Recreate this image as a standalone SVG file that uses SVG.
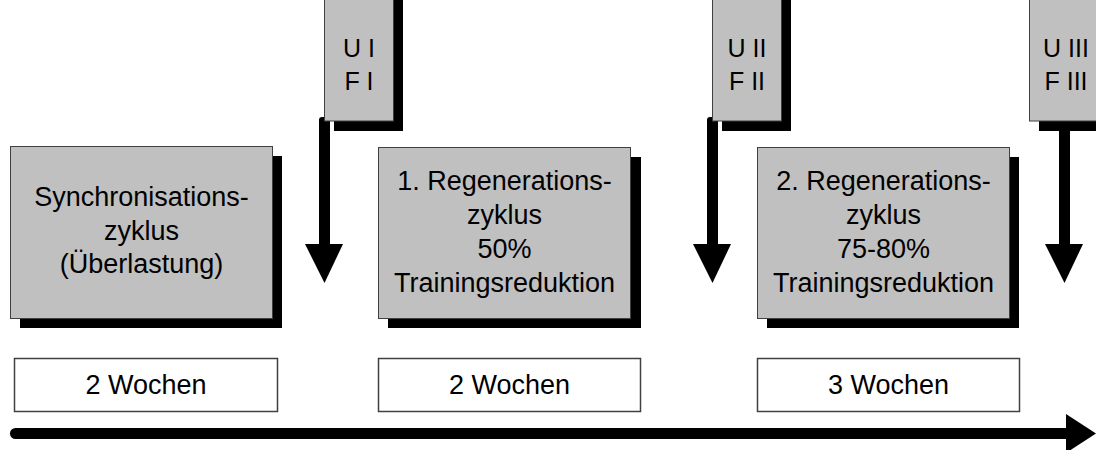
<svg xmlns="http://www.w3.org/2000/svg" width="1096" height="450" viewBox="0 0 1096 450">
<style>
.shadow{fill:#000}
.box{fill:#c0c0c0;stroke:#404040;stroke-width:1}
.wbox{fill:#fff;stroke:#404040;stroke-width:1.5}
.t{font-family:"Liberation Sans",Arial,sans-serif;font-size:27px;fill:#000;text-anchor:middle}
.ts{font-family:"Liberation Sans",Arial,sans-serif;font-size:25px;fill:#000;text-anchor:middle}
.arr{fill:#000}
</style>
<rect width="1096" height="450" fill="#fff"/>
<g id="connectors">
  <g id="arrow1">
    <rect class="arr" x="319" y="117" width="11" height="130" rx="3"/>
    <polygon class="arr" points="305,244 343,244 324.5,283"/>
  </g>
  <g id="arrow2">
    <rect class="arr" x="707" y="117" width="11" height="130" rx="3"/>
    <polygon class="arr" points="693,244 731,244 712.5,283"/>
  </g>
  <g id="arrow3">
    <rect class="arr" x="1059" y="125" width="11" height="122"/>
    <polygon class="arr" points="1045,244 1083,244 1064.5,283"/>
  </g>
  <g id="timeline">
    <line x1="15.5" y1="433.5" x2="1070" y2="433.5" stroke="#000" stroke-width="11" stroke-linecap="round"/>
    <polygon class="arr" points="1066,414 1096,433.5 1066,453"/>
  </g>
</g>
<g id="node-ui">
  <rect class="shadow" x="334" y="-10" width="69" height="141"/>
  <rect class="box" x="324.5" y="-2" width="69" height="123"/>
  <text class="ts" x="359" y="57">U I</text>
  <text class="ts" x="359" y="90">F I</text>
</g>
<g id="node-uii">
  <rect class="shadow" x="722" y="-10" width="69" height="141"/>
  <rect class="box" x="712.5" y="-2" width="69" height="123"/>
  <text class="ts" x="747" y="57">U II</text>
  <text class="ts" x="747" y="90">F II</text>
</g>
<g id="node-uiii">
  <rect class="shadow" x="1039" y="-10" width="69" height="141"/>
  <rect class="box" x="1029.5" y="-2" width="80" height="123"/>
  <text class="ts" x="1066" y="57">U III</text>
  <text class="ts" x="1066" y="90">F III</text>
</g>
<g id="node-sync">
  <rect class="shadow" x="20" y="156" width="262" height="172"/>
  <rect class="box" x="10.5" y="146.5" width="262" height="172"/>
  <text class="t" x="141.5" y="206">Synchronisations-</text>
  <text class="t" x="141.5" y="240">zyklus</text>
  <text class="t" x="141.5" y="273">(Überlastung)</text>
</g>
<g id="node-reg1">
  <rect class="shadow" x="388" y="157" width="253" height="171"/>
  <rect class="box" x="378.5" y="147.5" width="252" height="171"/>
  <text class="t" x="504.5" y="190">1. Regenerations-</text>
  <text class="t" x="504.5" y="224">zyklus</text>
  <text class="t" x="504.5" y="258">50%</text>
  <text class="t" x="504.5" y="292">Trainingsreduktion</text>
</g>
<g id="node-reg2">
  <rect class="shadow" x="767" y="157" width="252" height="171"/>
  <rect class="box" x="757.5" y="147.5" width="252" height="171"/>
  <text class="t" x="883.5" y="190">2. Regenerations-</text>
  <text class="t" x="883.5" y="224">zyklus</text>
  <text class="t" x="883.5" y="258">75-80%</text>
  <text class="t" x="883.5" y="292">Trainingsreduktion</text>
</g>
<g id="node-w1">
  <rect class="wbox" x="14.5" y="358.5" width="263" height="53"/>
  <text class="t" x="146" y="394">2 Wochen</text>
</g>
<g id="node-w2">
  <rect class="wbox" x="378.5" y="358.5" width="262" height="53"/>
  <text class="t" x="509.5" y="394">2 Wochen</text>
</g>
<g id="node-w3">
  <rect class="wbox" x="757.5" y="358.5" width="262" height="53"/>
  <text class="t" x="888.5" y="394">3 Wochen</text>
</g>
</svg>
